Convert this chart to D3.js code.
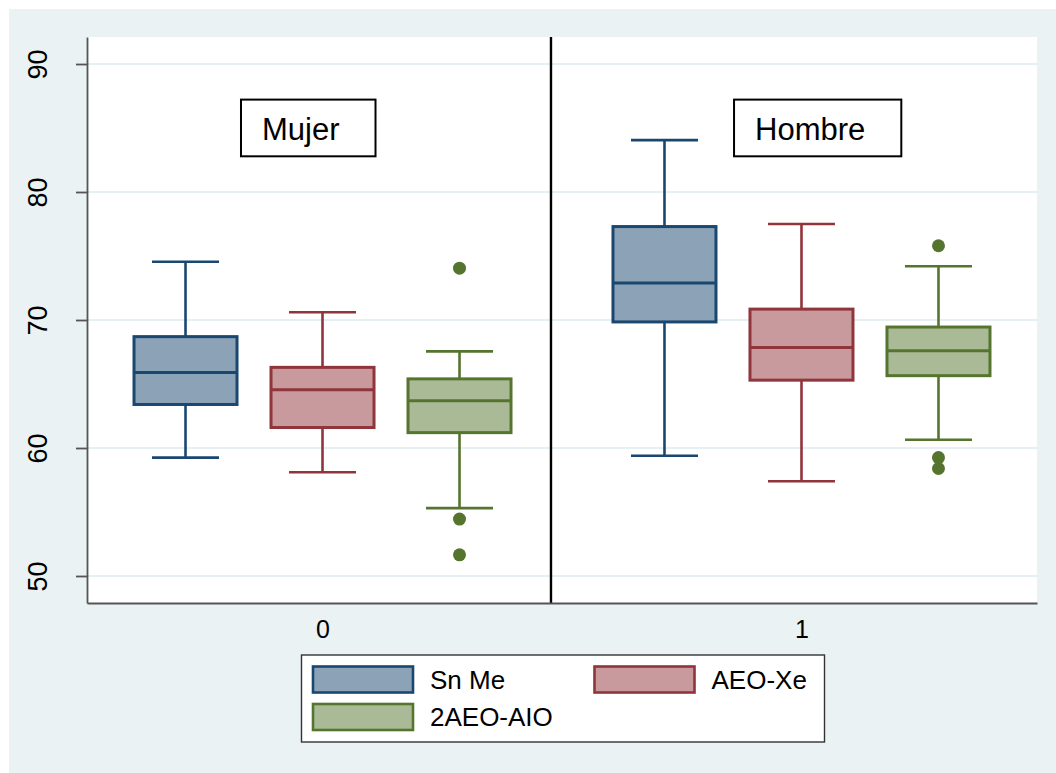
<!DOCTYPE html>
<html>
<head>
<meta charset="utf-8">
<script src="https://cdn.jsdelivr.net/npm/d3@7"></script>
<style>
  html, body { margin: 0; padding: 0; background: #ffffff; }
  svg { display: block; font-family: "Liberation Sans", Arial, Helvetica, sans-serif; }
</style>
</head>
<body>
<svg id="chart" width="1056" height="773"></svg>
<script>
// Groups on the x axis and the three series drawn in each group
const groups = ["0", "1"];
const series = ["Sn Me", "AEO-Xe", "2AEO-AIO"];

// Box statistics, indexed [group][series]
const whiskerLow  = [[59.25, 58.1, 55.3], [59.4, 57.4, 60.65]];
const quartile1   = [[63.4, 61.6, 61.2],  [69.85, 65.3, 65.65]];
const median      = [[65.9, 64.55, 63.7], [72.9, 67.85, 67.6]];
const quartile3   = [[68.7, 66.3, 65.4],  [77.3, 70.85, 69.45]];
const whiskerHigh = [[74.55, 70.6, 67.55],[84.05, 77.5, 74.2]];
const outliers    = [[[], [], [74.05, 54.45, 51.65]], [[], [], [75.8, 59.25, 58.4]]];

// Y axis ticks
const yTicks = [50, 60, 70, 80, 90];

// Panel labels
const panelLabels = ["Mujer", "Hombre"];

// Series colours: outline and 50% fill
const strokeColors = ["#1a476f", "#90353b", "#55752f"];
const fillColors   = ["#8ca3b7", "#c89a9d", "#aaba97"];

const svg = d3.select("#chart");
const W = 1056, H = 773;
const plot = { left: 87, right: 1037, top: 37, bottom: 603 };

// Outer background
svg.append("rect").attr("x", 9).attr("y", 9).attr("width", W - 9).attr("height", H - 9)
  .attr("fill", "#eaf2f3");
// Plot region
svg.append("rect").attr("x", plot.left).attr("y", plot.top)
  .attr("width", plot.right - plot.left).attr("height", plot.bottom - plot.top)
  .attr("fill", "#ffffff");

// Scales
const y = d3.scaleLinear().domain([47.89, 92.11]).range([plot.bottom, plot.top]);
const xGroup = d3.scalePoint().domain(groups).range([plot.left, plot.right]).padding(0.4917);
const xSeries = d3.scalePoint().domain(series).range([-137, 137]);
const xFrac = d3.scaleLinear().domain([0, 1]).range([plot.left, plot.right]);
const boxW = 103, capW = 67;

// Gridlines
svg.append("g").selectAll("line").data(yTicks).join("line")
  .attr("x1", plot.left).attr("x2", plot.right)
  .attr("y1", d => y(d)).attr("y2", d => y(d))
  .attr("stroke", "#e6eff1").attr("stroke-width", 2);

// Flatten box records
const boxes = [];
groups.forEach((g, gi) => series.forEach((s, si) => {
  boxes.push({
    g, s, si,
    lo: whiskerLow[gi][si], q1: quartile1[gi][si], med: median[gi][si],
    q3: quartile3[gi][si], hi: whiskerHigh[gi][si], out: outliers[gi][si],
    cx: xGroup(g) + xSeries(s)
  });
}));

const bg = svg.append("g").selectAll("g").data(boxes).join("g");

// Whiskers
bg.append("line").attr("x1", d => d.cx).attr("x2", d => d.cx)
  .attr("y1", d => y(d.q3)).attr("y2", d => y(d.hi))
  .attr("stroke", d => strokeColors[d.si]).attr("stroke-width", 2.6);
bg.append("line").attr("x1", d => d.cx).attr("x2", d => d.cx)
  .attr("y1", d => y(d.q1)).attr("y2", d => y(d.lo))
  .attr("stroke", d => strokeColors[d.si]).attr("stroke-width", 2.6);
// Caps
bg.append("line").attr("x1", d => d.cx - capW / 2).attr("x2", d => d.cx + capW / 2)
  .attr("y1", d => y(d.hi)).attr("y2", d => y(d.hi))
  .attr("stroke", d => strokeColors[d.si]).attr("stroke-width", 2.6);
bg.append("line").attr("x1", d => d.cx - capW / 2).attr("x2", d => d.cx + capW / 2)
  .attr("y1", d => y(d.lo)).attr("y2", d => y(d.lo))
  .attr("stroke", d => strokeColors[d.si]).attr("stroke-width", 2.6);
// Box
bg.append("rect").attr("x", d => d.cx - boxW / 2).attr("width", boxW)
  .attr("y", d => y(d.q3)).attr("height", d => y(d.q1) - y(d.q3))
  .attr("fill", d => fillColors[d.si]).attr("stroke", d => strokeColors[d.si])
  .attr("stroke-width", 3);
// Median
bg.append("line").attr("x1", d => d.cx - boxW / 2).attr("x2", d => d.cx + boxW / 2)
  .attr("y1", d => y(d.med)).attr("y2", d => y(d.med))
  .attr("stroke", d => strokeColors[d.si]).attr("stroke-width", 3);
// Outside values
bg.selectAll("circle").data(d => d.out.map(v => ({ v, cx: d.cx, si: d.si }))).join("circle")
  .attr("cx", d => d.cx).attr("cy", d => y(d.v)).attr("r", 6.5)
  .attr("fill", d => strokeColors[d.si]);

// Divider between the two panels
svg.append("line").attr("x1", xFrac(0.4884)).attr("x2", xFrac(0.4884))
  .attr("y1", plot.top).attr("y2", plot.bottom)
  .attr("stroke", "#000").attr("stroke-width", 2.4);

// Panel label boxes
const labelPos = [0.1842, 0.7032];
panelLabels.forEach((lab, i) => {
  const gl = svg.append("g");
  const tx = xFrac(labelPos[i]);
  const ty = y(85) + 12.3;
  const t = gl.append("text").attr("x", tx).attr("y", ty)
    .attr("font-size", 31).attr("fill", "#000").text(lab);
  const w = t.node().getComputedTextLength();
  gl.insert("rect", "text").attr("x", tx - 21).attr("y", ty - 40.7)
    .attr("width", w + 21 + 36).attr("height", 56.7)
    .attr("fill", "#fff").attr("stroke", "#000").attr("stroke-width", 2);
});

// Y axis
const yAxis = svg.append("g").attr("transform", `translate(${plot.left},0)`)
  .call(d3.axisLeft(y).tickValues(yTicks).tickSize(11).tickSizeOuter(0).tickFormat(d3.format("d")));
yAxis.select(".domain").attr("stroke", "#555").attr("stroke-width", 1.8);
yAxis.selectAll(".tick line").attr("stroke", "#555").attr("stroke-width", 1.8);
yAxis.selectAll(".tick text")
  .attr("x", 0).attr("dy", 0).attr("text-anchor", "middle")
  .attr("transform", "translate(-40,0) rotate(-90)")
  .attr("font-size", 27).attr("font-family", "Liberation Sans, Arial, sans-serif").attr("fill", "#000");

// X axis
const xAxis = svg.append("g").attr("transform", `translate(0,${plot.bottom})`)
  .call(d3.axisBottom(xGroup).tickSize(0).tickSizeOuter(0).tickPadding(17));
xAxis.select(".domain").attr("stroke", "#555").attr("stroke-width", 2);
xAxis.selectAll(".tick text").attr("font-size", 25)
  .attr("font-family", "Liberation Sans, Arial, sans-serif").attr("fill", "#000");

// Legend
const lg = svg.append("g");
lg.append("rect").attr("x", 301.5).attr("y", 655).attr("width", 523).attr("height", 87)
  .attr("fill", "#fff").attr("stroke", "#333").attr("stroke-width", 1.4);
series.forEach((s, i) => {
  const col = i % 2, row = Math.floor(i / 2);
  const sx = 313 + col * 281.5, sy = 666.5 + row * 37.5;
  lg.append("rect").attr("x", sx).attr("y", sy).attr("width", 100).attr("height", 26)
    .attr("fill", fillColors[i]).attr("stroke", strokeColors[i]).attr("stroke-width", 2.6);
  lg.append("text").attr("x", sx + 117).attr("y", sy + 13).attr("dy", "0.36em")
    .attr("font-size", 26).attr("fill", "#000").text(s);
});
</script>
</body>
</html>
